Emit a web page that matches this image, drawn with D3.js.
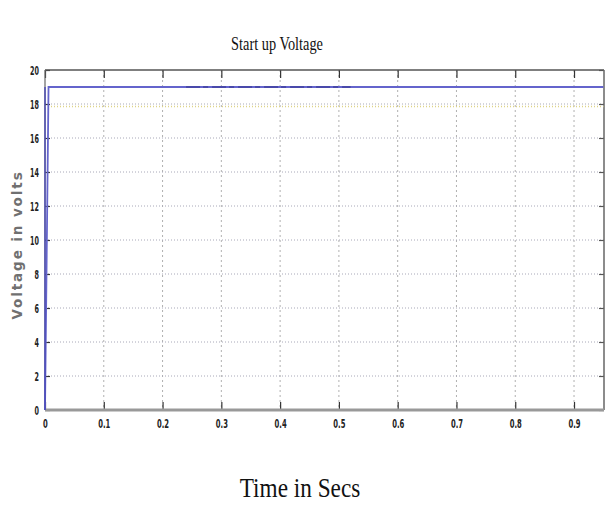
<!DOCTYPE html>
<html>
<head>
<meta charset="utf-8">
<script src="https://cdn.jsdelivr.net/npm/d3@7/dist/d3.min.js"></script>
<style>
  html, body { margin: 0; padding: 0; background: #fff; }
  svg { display: block; }
</style>
</head>
<body>
<svg id="chart" width="608" height="507"></svg>
<script>
// Start-up voltage trace (time in seconds, voltage in volts)
const timeSecs   = [0, 0.006, 0.95];
const voltage    = [0, 19.0, 19.0];
// short stretch where the settled trace shows ripple
const rippleTime    = [0.24, 0.52];
const rippleVoltage = [19.0, 19.0];
// reference level just under 18 V
const refTime    = [0, 0.95];
const refVoltage = [17.85, 17.85];

const xTicks = [0, 0.1, 0.2, 0.3, 0.4, 0.5, 0.6, 0.7, 0.8, 0.9];
const yTicks = [0, 2, 4, 6, 8, 10, 12, 14, 16, 18, 20];
const xTickLabels = ["0", "0.1", "0.2", "0.3", "0.4", "0.5", "0.6", "0.7", "0.8", "0.9"];

const svg = d3.select("#chart");
const m = { left: 45, right: 604, top: 70, bottom: 410 };

const x = d3.scaleLinear().domain([0, 0.951]).range([m.left, m.right]);
const y = d3.scaleLinear().domain([0, 20]).range([m.bottom, m.top]);

// grid
const grid = svg.append("g");
grid.selectAll("line.gx").data(xTicks.slice(1)).enter().append("line")
  .attr("x1", d => x(d)).attr("x2", d => x(d))
  .attr("y1", m.top).attr("y2", m.bottom)
  .attr("stroke", "#b0b0b0").attr("stroke-width", 1)
  .attr("stroke-dasharray", "2,3");
grid.selectAll("line.gy").data(yTicks.slice(1, -1)).enter().append("line")
  .attr("x1", m.left).attr("x2", m.right)
  .attr("y1", d => y(d)).attr("y2", d => y(d))
  .attr("stroke", "#a8a8b8").attr("stroke-width", 1)
  .attr("stroke-dasharray", "1,2");

// axes with inward ticks
const xAxisB = d3.axisBottom(x).tickValues(xTicks).tickSize(-8).tickFormat((d, i) => xTickLabels[i]);
const xAxisT = d3.axisTop(x).tickValues(xTicks).tickSize(-8).tickFormat("");
const yAxisL = d3.axisLeft(y).tickValues(yTicks).tickSize(-5).tickFormat(d3.format("d"));
const yAxisR = d3.axisRight(y).tickValues(yTicks).tickSize(-5).tickFormat("");

const tickFont = "'DejaVu Sans Condensed', 'DejaVu Sans', sans-serif";

function styleAxis(g, col) {
  g.select(".domain").remove();
  g.selectAll(".tick line").attr("stroke", col).attr("stroke-width", 1.2);
  g.selectAll(".tick text")
    .attr("fill", "#222")
    .attr("font-family", tickFont)
    .attr("font-weight", "bold")
    .attr("font-size", 9.5);
}

// bottom axis: narrow, tall tick labels
const gxB = svg.append("g").attr("transform", `translate(0,${m.bottom})`).call(xAxisB);
styleAxis(gxB, "#333");
gxB.selectAll(".tick text")
  .attr("x", 0).attr("y", 0).attr("dy", 0)
  .attr("transform", "translate(0,18) scale(0.8,1.35)");

const gxT = svg.append("g").attr("transform", `translate(0,${m.top})`).call(xAxisT);
styleAxis(gxT, "#333");

const gyL = svg.append("g").attr("transform", `translate(${m.left},0)`).call(yAxisL);
styleAxis(gyL, "#333");
gyL.selectAll(".tick text")
  .attr("x", 0).attr("y", 0).attr("dy", 0)
  .attr("text-anchor", "end")
  .attr("transform", "translate(-6,4) scale(0.75,1.35)");

const gyR = svg.append("g").attr("transform", `translate(${m.right},0)`).call(yAxisR);
styleAxis(gyR, "#555");

// frame
svg.append("line").attr("x1", m.left).attr("x2", m.right).attr("y1", m.top).attr("y2", m.top)
  .attr("stroke", "#555").attr("stroke-width", 1.5);
svg.append("line").attr("x1", m.right).attr("x2", m.right).attr("y1", m.top).attr("y2", m.bottom)
  .attr("stroke", "#666").attr("stroke-width", 1.5);
svg.append("line").attr("x1", m.left).attr("x2", m.left).attr("y1", m.top).attr("y2", m.bottom)
  .attr("stroke", "#666").attr("stroke-width", 1.2);
svg.append("line").attr("x1", m.left).attr("x2", m.right).attr("y1", m.bottom).attr("y2", m.bottom)
  .attr("stroke", "#999").attr("stroke-width", 3);

// reference level
const line = d3.line().x(d => x(d[0])).y(d => y(d[1]));
svg.append("path")
  .datum(d3.zip(refTime, refVoltage))
  .attr("d", line)
  .attr("fill", "none")
  .attr("stroke", "#ddd488").attr("stroke-width", 1.4)
  .attr("stroke-dasharray", "1,2");

// voltage trace
svg.append("path")
  .datum(d3.zip(timeSecs, voltage))
  .attr("d", line)
  .attr("fill", "none")
  .attr("stroke", "#6464cc").attr("stroke-width", 1.8);
svg.append("path")
  .datum(d3.zip(rippleTime, rippleVoltage))
  .attr("d", line)
  .attr("fill", "none")
  .attr("stroke", "#2a2a80").attr("stroke-width", 1.4)
  .attr("stroke-dasharray", "14,3,5,4")
  .attr("opacity", 0.6);
svg.append("line")
  .attr("x1", x(0)).attr("x2", x(0)).attr("y1", y(0)).attr("y2", y(19))
  .attr("stroke", "#4a4ab8").attr("stroke-width", 1.4);

// title
svg.append("text")
  .attr("transform", "translate(277,50) scale(0.82,1.12)")
  .attr("text-anchor", "middle")
  .attr("font-family", "'Liberation Serif', 'Times New Roman', serif")
  .attr("font-size", 17.5)
  .attr("fill", "#111")
  .text("Start up Voltage");

// x label
svg.append("text")
  .attr("transform", "translate(300,497) scale(0.93,1.1)")
  .attr("text-anchor", "middle")
  .attr("font-family", "'Liberation Serif', 'Times New Roman', serif")
  .attr("font-size", 25)
  .attr("fill", "#111")
  .text("Time in Secs");

// y label
svg.append("text")
  .attr("transform", "translate(22,245) rotate(-90)")
  .attr("text-anchor", "middle")
  .attr("font-family", "'DejaVu Sans', Verdana, sans-serif")
  .attr("font-size", 13.5)
  .attr("letter-spacing", 1.9)
  .attr("font-weight", "bold")
  .attr("fill", "#707070")
  .text("Voltage in volts");
</script>
</body>
</html>
